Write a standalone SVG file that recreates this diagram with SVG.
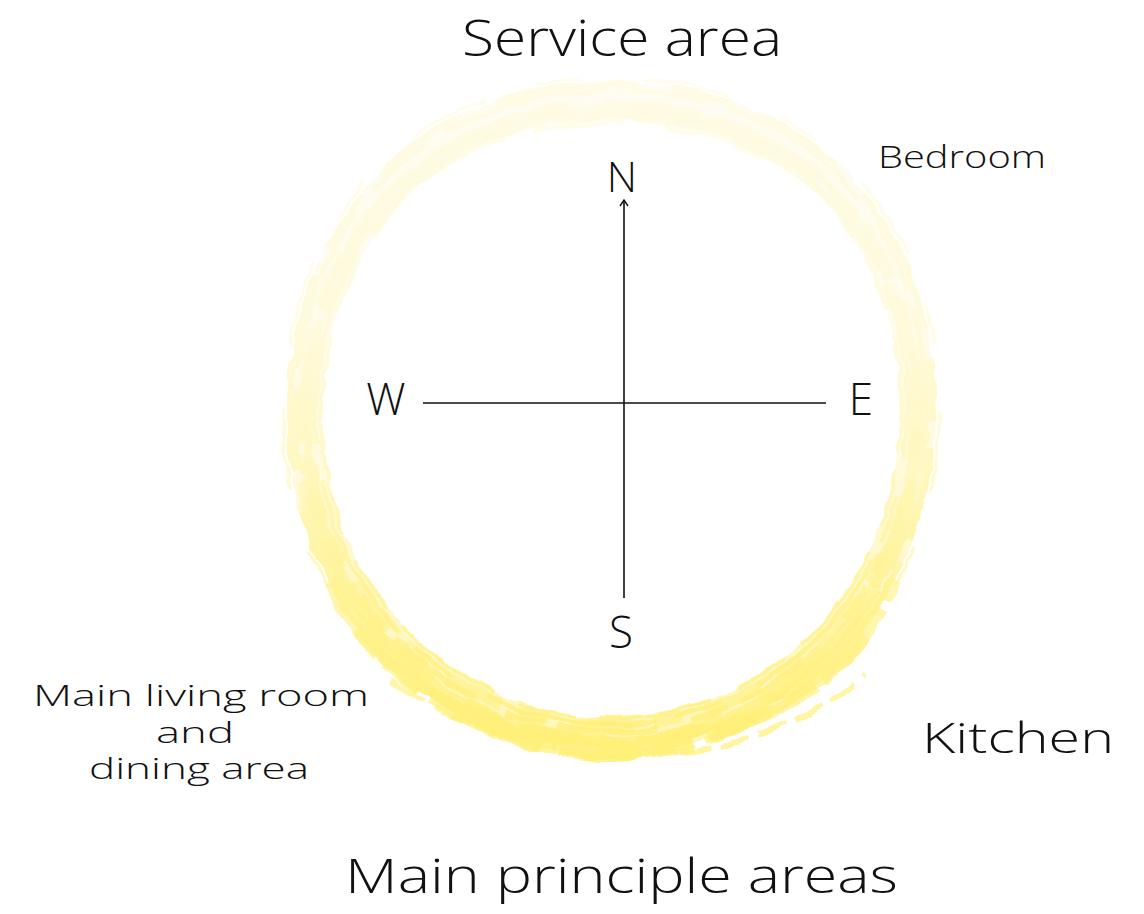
<svg xmlns="http://www.w3.org/2000/svg" width="1144" height="914" viewBox="0 0 1144 914">
<style>
.t{font-family:"Open Sans","Liberation Sans","DejaVu Sans",sans-serif;font-weight:300;fill:#111;}
.ax{stroke:#111;stroke-width:1.6;fill:none;}
.br{fill:none;stroke:url(#ring);}
</style>
<defs>
<linearGradient id="ring" gradientUnits="userSpaceOnUse" x1="0" y1="70" x2="0" y2="770">
<stop offset="0" stop-color="#fffbe4"/>
<stop offset="0.35" stop-color="#fffadb"/>
<stop offset="0.55" stop-color="#fff7be"/>
<stop offset="0.75" stop-color="#fff28e"/>
<stop offset="1" stop-color="#ffef72"/>
</linearGradient>
<filter id="rough" x="-10%" y="-10%" width="120%" height="120%">
<feTurbulence type="fractalNoise" baseFrequency="0.03 0.05" numOctaves="2" seed="4" result="n"/>
<feDisplacementMap in="SourceGraphic" in2="n" scale="9" xChannelSelector="R" yChannelSelector="G"/>
</filter>
<path id="rp" d="M305 420 C305 228 428 100 612 100 C796 100 918 224 918 410 C918 592 783 735 612 735 C443 735 305 593 305 420 Z"/>
<marker id="open" viewBox="0 0 10 10" refX="9" refY="5" markerWidth="10" markerHeight="10" orient="auto" markerUnits="userSpaceOnUse">
<path d="M3 1 L9 5 L3 9" fill="none" stroke="#111" stroke-width="1.4"/>
</marker>
</defs>
<rect width="1144" height="914" fill="#fff"/>
<g id="brush-ring" filter="url(#rough)">
<use href="#rp" class="br" stroke-width="36" opacity="0.5"/>
<use href="#rp" class="br" stroke-width="6" stroke-dasharray="140 30 60 25 90 40" opacity="0.85" transform="translate(612 418) scale(1.05) translate(-612 -418)"/>
<use href="#rp" class="br" stroke-width="5" stroke-dasharray="70 20 160 30" stroke-dashoffset="40" opacity="0.85" transform="translate(612 418) scale(1.03) translate(-612 -418)"/>
<use href="#rp" class="br" stroke-width="7" stroke-dasharray="100 15 40 35" stroke-dashoffset="80" opacity="0.8" transform="translate(612 418) scale(0.99) translate(-612 -418)"/>
<use href="#rp" class="br" stroke-width="5" stroke-dasharray="180 40 50 20" stroke-dashoffset="10" opacity="0.8" transform="translate(612 418) scale(0.965) translate(-612 -418)"/>
<use href="#rp" class="br" stroke-width="4" stroke-dasharray="60 30 120 25" stroke-dashoffset="120" opacity="0.7" transform="translate(612 418) scale(0.945) translate(-612 -418)"/>
<use href="#rp" class="br" stroke-width="10" stroke-dasharray="200 30 80 50" stroke-dashoffset="200" opacity="0.75" transform="translate(0 8)"/>
<use href="#rp" class="br" stroke-width="12" stroke-dasharray="150 40 90 30" stroke-dashoffset="60" opacity="0.7" transform="translate(0 14) scale(1 0.99)"/>
<use href="#rp" class="br" stroke-width="8" stroke-dasharray="120 20 70 30" stroke-dashoffset="20" opacity="0.75" transform="translate(612 418) scale(0.985 1.01) translate(-612 -400)"/>
<use href="#rp" class="br" stroke-width="6" stroke-dasharray="90 40 130 25" stroke-dashoffset="150" opacity="0.7" transform="translate(612 418) scale(1.02 1.0) translate(-612 -395)"/>
<use href="#rp" class="br" stroke-width="3" stroke-dasharray="40 60 80 50" stroke-dashoffset="30" opacity="0.6" transform="translate(612 418) scale(1.07) translate(-612 -418)"/>
<use href="#rp" class="br" stroke-width="14" stroke-dasharray="30 20 60 25" stroke-dashoffset="70" opacity="0.55" transform="translate(612 418) scale(1.0 0.97) translate(-612 -418)"/>
<path class="br" d="M330 580 Q390 725 612 752 Q830 735 895 580" stroke-width="14" stroke-dasharray="90 12 40 15 120 10" opacity="0.7"/>
<path class="br" d="M355 630 Q445 730 612 742 Q800 730 870 630" stroke-width="10" stroke-dasharray="60 20 100 15" opacity="0.7"/>
<path class="br" d="M390 680 Q480 740 600 760" stroke-width="5" stroke-dasharray="40 12" opacity="0.7"/>
<path class="br" d="M680 752 Q790 740 865 675" stroke-width="5" stroke-dasharray="30 10" opacity="0.7"/>
</g>
<g id="connectors">
<line class="ax" x1="624" y1="598" x2="624" y2="200" marker-end="url(#open)"/>
<line class="ax" x1="423" y1="403" x2="826" y2="403"/>
</g>
<g id="n-north"><text class="t" x="622" y="192" font-size="42" text-anchor="middle">N</text></g>
<g id="n-south"><text class="t" x="621" y="648" font-size="44" text-anchor="middle">S</text></g>
<g id="n-west"><text class="t" x="386" y="415" font-size="44" text-anchor="middle">W</text></g>
<g id="n-east"><text class="t" x="861" y="415" font-size="44" text-anchor="middle">E</text></g>
<g id="n-service"><text class="t" x="462" y="56" font-size="50" textLength="320" lengthAdjust="spacingAndGlyphs">Service area</text></g>
<g id="n-bedroom"><text class="t" x="878" y="168" font-size="32" textLength="168" lengthAdjust="spacingAndGlyphs">Bedroom</text></g>
<g id="n-kitchen"><text class="t" x="922" y="753" font-size="42" textLength="192" lengthAdjust="spacingAndGlyphs">Kitchen</text></g>
<g id="n-living">
<text class="t" x="33" y="706" font-size="29" textLength="336" lengthAdjust="spacingAndGlyphs">Main living room</text>
<text class="t" x="156" y="743" font-size="29" textLength="78" lengthAdjust="spacingAndGlyphs">and</text>
<text class="t" x="89" y="779" font-size="29" textLength="220" lengthAdjust="spacingAndGlyphs">dining area</text>
</g>
<g id="n-main"><text class="t" x="345" y="893" font-size="48" textLength="553" lengthAdjust="spacingAndGlyphs">Main principle areas</text></g>
</svg>
